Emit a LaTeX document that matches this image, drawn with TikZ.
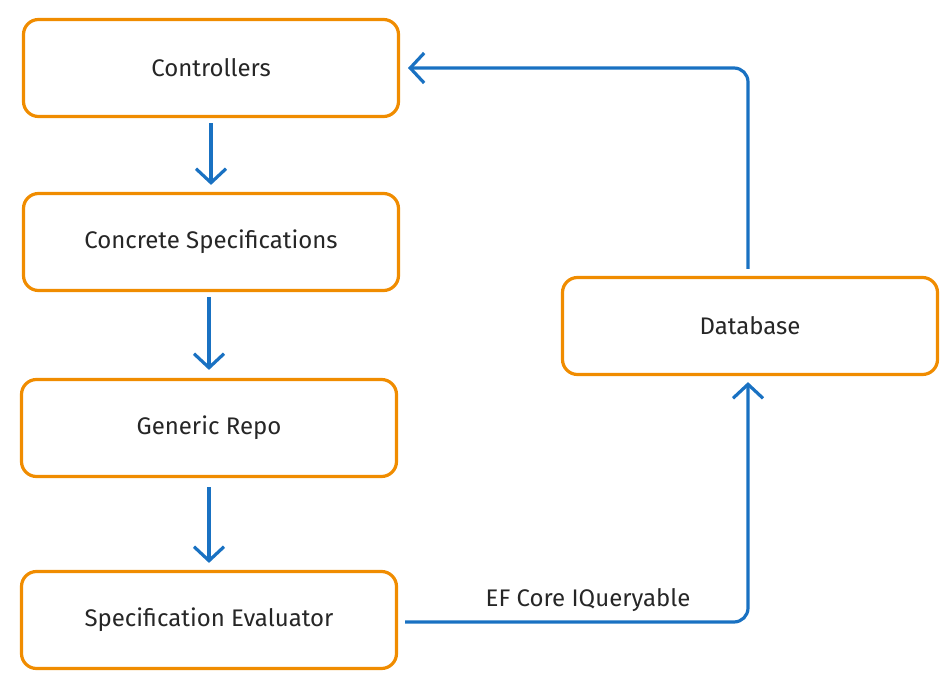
\documentclass[tikz,border=0pt]{standalone}
\usepackage{fontspec}
\setmainfont{Fira Sans}
\usetikzlibrary{arrows.meta}

\definecolor{boxorange}{HTML}{F08C00}
\definecolor{flowblue}{HTML}{1971C2}

\begin{document}
\begin{tikzpicture}[
x=1pt, y=-1pt,
layer/.style={draw=boxorange, line width=3.2pt, rounded corners=15pt, fill=white, minimum width=375pt, minimum height=97pt, align=center, font=\fontsize{24}{28}\selectfont, text=black!85},
flow/.style={draw=flowblue, line width=3.2pt, rounded corners=14pt, -{Straight Barb[length=14pt,width=30pt]}},
]
\useasboundingbox (0,0) rectangle (950,685);

\node[layer] (ctrl) at (211,68) {Controllers};
\node[layer] (spec) at (211,242) {Concrete Specifications};
\node[layer] (repo) at (209,428) {Generic Repo};
\node[layer] (eval) at (209,620) {Specification Evaluator};
\node[layer] (db) at (750,326) {Database};

\coordinate (evalout) at (405,622);
\coordinate (ctrlin) at (408,68);

\draw[flow] (ctrl.south) ++(0,5) -- ([yshift=7pt]spec.north);
\draw[flow] (spec.south) ++(-2,5) -- ([yshift=8pt]repo.north);
\draw[flow] (repo.south) ++(0,9) -- ([yshift=7pt]eval.north);
\draw[flow] (evalout) -| node[pos=0.5, above=5pt, xshift=-160pt, font=\fontsize{24}{28}\selectfont, text=black!85] {EF Core IQueryable} ([yshift=-6pt, xshift=-2pt]db.south);
\draw[flow] ([yshift=7pt, xshift=-2pt]db.north) |- (ctrlin);
\end{tikzpicture}
\end{document}
